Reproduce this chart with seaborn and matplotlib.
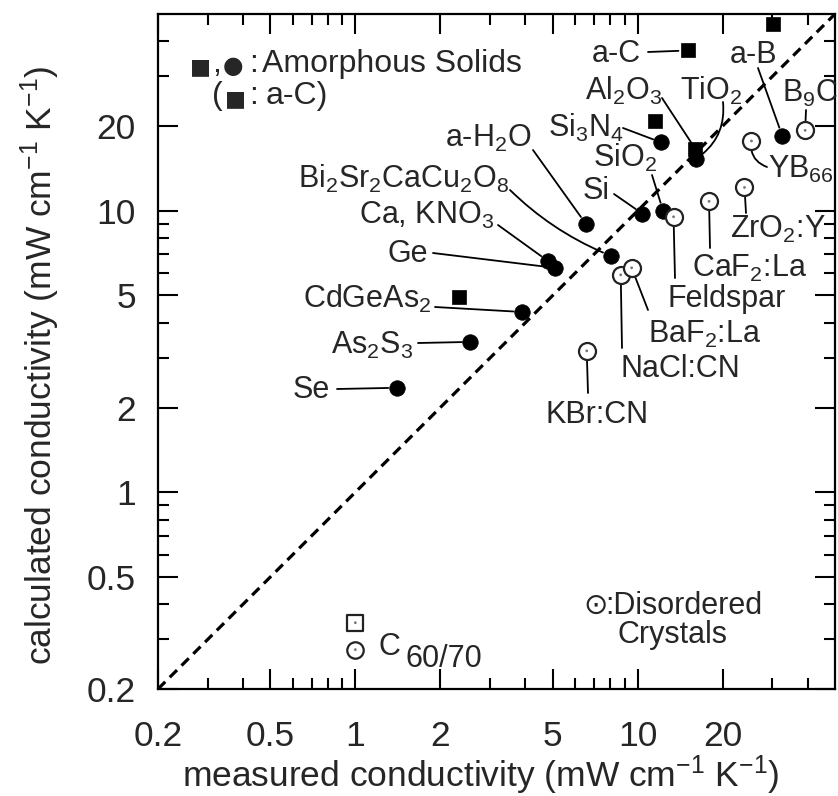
import numpy as np
import pandas as pd
import matplotlib
matplotlib.use("Agg")
import matplotlib.pyplot as plt
from matplotlib.ticker import FixedLocator, NullFormatter
import seaborn as sns

# ---------------- data (measured, calculated) in mW cm^-1 K^-1 ----------------
circle_names = ["Se", "As2S3", "CdGeAs2", "CaKNO3", "Ge", "Bi2212", "aH2O",
                "Si", "SiO2", "Si3N4", "Al2O3TiO2", "aB"]
circle_meas = [1.40, 2.55, 3.89, 4.81, 5.09, 8.03, 6.55, 10.4, 12.3, 12.1, 16.1, 32.5]
circle_calc = [2.35, 3.42, 4.37, 6.63, 6.27, 6.92, 8.99, 9.76, 10.0, 17.5, 15.3, 18.5]

square_names = ["CdGeAs2_sq", "Si3N4_sq", "Al2O3TiO2_sq", "aC", "top_sq"]
square_meas = [2.33, 11.5, 16.0, 15.1, 30.2]
square_calc = [4.94, 20.9, 16.6, 37.1, 45.9]

crystal_names = ["KBr:CN", "NaCl:CN", "BaF2:La", "Feldspar", "CaF2:La",
                 "ZrO2:Y", "YB66", "B9C"]
crystal_meas = [6.60, 8.71, 9.52, 13.4, 17.9, 23.9, 25.3, 39.2]
crystal_calc = [3.18, 5.92, 6.27, 9.52, 10.8, 12.1, 17.7, 19.3]

c60_meas = [1.0, 1.0]
c60_calc = [0.344, 0.276]
c60_kind = ["square", "circle"]

diag = [0.2, 50.0]
major_ticks = [0.2, 0.5, 1, 2, 5, 10, 20]
major_labels = ["0.2", "0.5", "1", "2", "5", "10", "20"]
minor_ticks = [0.3, 0.4, 0.6, 0.7, 0.8, 0.9, 3, 4, 6, 7, 8, 9, 30, 40]

# ---------------- style ----------------
sns.set_style("ticks")
plt.rcParams["font.family"] = ["Liberation Sans", "DejaVu Sans"]
plt.rcParams["mathtext.fontset"] = "custom"
plt.rcParams["mathtext.rm"] = "Liberation Sans"
plt.rcParams["mathtext.it"] = "Liberation Sans:italic"
plt.rcParams["mathtext.bf"] = "Liberation Sans:bold"
plt.rcParams["mathtext.default"] = "regular"

TICK_FS = 25.5
AXLAB_FS = 25.5
LAB_FS = 22

fig = plt.figure(figsize=(8.38, 7.96), dpi=100)
ax = fig.add_axes([158 / 838, 1 - 689 / 796, 677 / 838, 675 / 796])
ax.set_xscale("log")
ax.set_yscale("log")
ax.set_xlim(diag)
ax.set_ylim(diag)


def frac(px, py):
    return ((px - 158) / 677, (689 - py) / 675)


# diagonal
sns.lineplot(x=diag, y=diag, ax=ax, color="black", lw=2.3, zorder=2)
ax.lines[-1].set_dashes([3.2, 2.0])

df_c = pd.DataFrame({"m": circle_meas, "c": circle_calc, "n": circle_names})
df_s = pd.DataFrame({"m": square_meas, "c": square_calc, "n": square_names})
df_x = pd.DataFrame({"m": crystal_meas, "c": crystal_calc, "n": crystal_names})
df_60 = pd.DataFrame({"m": c60_meas, "c": c60_calc, "k": c60_kind})

sns.scatterplot(data=df_s, x="m", y="c", marker="s", s=115, color="black",
                edgecolor="black", linewidth=0.5, ax=ax, zorder=4)
sns.scatterplot(data=df_c, x="m", y="c", marker="o", s=125, color="black",
                edgecolor="black", linewidth=0.5, ax=ax, zorder=5)
sns.scatterplot(data=df_x, x="m", y="c", marker="o", s=150, color="white",
                edgecolor="#222222", linewidth=1.6, ax=ax, zorder=5)
sns.scatterplot(data=df_x, x="m", y="c", marker="o", s=4, color="#777777",
                edgecolor="none", ax=ax, zorder=6)
sns.scatterplot(data=df_60[df_60.k == "square"], x="m", y="c", marker="s", s=120,
                color="white", edgecolor="#222222", linewidth=1.6, ax=ax, zorder=5)
sns.scatterplot(data=df_60[df_60.k == "circle"], x="m", y="c", marker="o", s=140,
                color="white", edgecolor="#222222", linewidth=1.6, ax=ax, zorder=5)
sns.scatterplot(data=df_60, x="m", y="c", marker="o", s=4, color="#777777",
                edgecolor="none", ax=ax, zorder=6)

pts = {}
for n, m, c in zip(circle_names, circle_meas, circle_calc):
    pts[n] = (m, c)
for n, m, c in zip(square_names, square_meas, square_calc):
    pts[n] = (m, c)
for n, m, c in zip(crystal_names, crystal_meas, crystal_calc):
    pts[n] = (m, c)

# label layout: text, (px, py baseline), ha, target point, line start (px,py), rad, shrink
labels = [
    ("Se", (330, 398), "right", "Se", (337, 389), 0.0, 6),
    ("As$_2$S$_3$", (413, 354), "right", "As2S3", (418, 343), 0.0, 6),
    ("CdGeAs$_2$", (431, 308), "right", "CdGeAs2", (435, 307), 0.0, 6),
    ("Ge", (428, 262), "right", "Ge", (433, 253), 0.0, 6),
    ("Ca, KNO$_3$", (494, 224), "right", "CaKNO3", (498, 225), 0.0, 6),
    ("Bi$_2$Sr$_2$CaCu$_2$O$_8$", (510, 188), "right", "Bi2212", (510, 190), 0.1, 6),
    ("a-H$_2$O", (531, 147), "right", "aH2O", (533, 150), 0.0, 6),
    ("Si", (583, 199), "left", "Si", (614, 194), 0.0, 6),
    ("SiO$_2$", (593, 167), "left", "SiO2", (652, 175), 0.0, 6),
    ("Si$_3$N$_4$", (548, 137), "left", "Si3N4", (623, 128), 0.0, 6),
    ("Al$_2$O$_3$", (585, 100), "left", "Al2O3TiO2_sq", (662, 98), 0.0, 5),
    ("TiO$_2$", (680, 100), "left", "Al2O3TiO2", (723, 102), -0.3, 6),
    ("a-C", (592, 62), "left", "aC", (648, 52), 0.0, 7),
    ("a-B", (730, 63), "left", "aB", (758, 68), 0.0, 6),
    ("B$_9$C", (782, 102), "left", "B9C", (806, 110), 0.0, 7),
    ("YB$_{66}$", (768, 178), "left", "YB66", (767, 167), -0.4, 7),
    ("ZrO$_2$:Y", (730, 238), "left", "ZrO2:Y", (746, 213), 0.0, 7),
    ("CaF$_2$:La", (692, 277), "left", "CaF2:La", (710, 248), 0.0, 7),
    ("Feldspar", (667, 307), "left", "Feldspar", (675, 278), 0.0, 7),
    ("BaF$_2$:La", (648, 343), "left", "BaF2:La", (648, 310), 0.0, 7),
    ("NaCl:CN", (620, 377), "left", "NaCl:CN", (622, 348), 0.0, 7),
    ("KBr:CN", (545, 423), "left", "KBr:CN", (588, 393), 0.0, 7),
]

for text, (tx, ty), ha, target, (sx, sy), rad, shr in labels:
    fx, fy = frac(tx, ty)
    ax.text(fx, fy, text, transform=ax.transAxes, ha=ha, va="baseline",
            fontsize=LAB_FS, zorder=7)
    ax.annotate("", xy=pts[target], xycoords="data",
                xytext=frac(sx, sy), textcoords="axes fraction",
                arrowprops=dict(arrowstyle="-", color="black", lw=1.3,
                                shrinkA=0, shrinkB=shr,
                                connectionstyle=f"arc3,rad={rad}"),
                zorder=3)

# key texts
dv = ["DejaVu Sans"]


def key(px, py, s, fs=LAB_FS, family=None):
    kw = {} if family is None else {"family": family}
    ax.text(*frac(px, py), s, transform=ax.transAxes, ha="left",
            va="baseline", fontsize=fs, **kw)


key(190, 73, "\u25a0", 16, dv)
key(212, 72, ",", 23)
key(223, 73, "\u25cf", 17, dv)
key(249, 72, ":", 23)
key(262, 72, "Amorphous Solids", 23)
key(212, 104, "(", 23)
key(225, 105, "\u25a0", 16, dv)
key(249, 104, ":", 23)
key(266, 104, "a-C)", 23)
key(378, 655, "C", LAB_FS)
key(405, 667, "60/70", LAB_FS)
key(583, 614, "\u2299", 21, dv)
key(605, 614, ":Disordered", LAB_FS)
key(617, 643, "Crystals", LAB_FS)

# axes & ticks
for axis in (ax.xaxis, ax.yaxis):
    axis.set_major_locator(FixedLocator(major_ticks))
    axis.set_minor_locator(FixedLocator(minor_ticks))
    axis.set_minor_formatter(NullFormatter())
ax.set_xticklabels(major_labels)
ax.set_yticklabels(major_labels)
ax.tick_params(which="both", direction="in", top=True, right=True,
               width=1.5, color="black")
ax.tick_params(which="major", length=14.5, labelsize=TICK_FS)
ax.tick_params(which="minor", length=8)
ax.tick_params(axis="x", which="major", pad=22)
ax.tick_params(axis="y", which="major", pad=16)
for sp in ax.spines.values():
    sp.set_linewidth(1.6)
    sp.set_color("black")

ax.set_xlabel("measured conductivity (mW cm$^{-1}$ K$^{-1}$)", fontsize=AXLAB_FS)
ax.set_ylabel("calculated conductivity (mW cm$^{-1}$ K$^{-1}$)", fontsize=AXLAB_FS)
ax.xaxis.set_label_coords(0.476, -0.096)
ax.yaxis.set_label_coords(-0.142, 0.48)

fig.savefig("out.png", dpi=100, facecolor="white")
